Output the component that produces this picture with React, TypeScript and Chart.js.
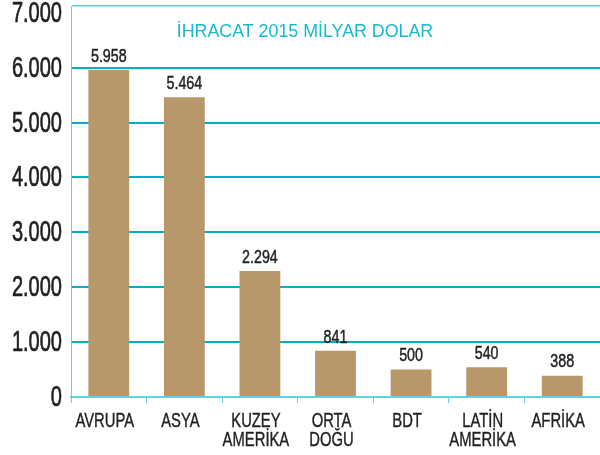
import React, { useEffect, useRef } from "react";
import { Chart, registerables } from "chart.js";

Chart.register(...registerables);

const categories: string[][] = [
  ["AVRUPA"],
  ["ASYA"],
  ["KUZEY", "AMERİKA"],
  ["ORTA", "DOĞU"],
  ["BDT"],
  ["LATİN", "AMERİKA"],
  ["AFRİKA"],
];
const exports2015: number[] = [5958, 5464, 2294, 841, 500, 540, 388];
const yTicks: number[] = [0, 1000, 2000, 3000, 4000, 5000, 6000, 7000];
const yMax = 7125;
const title = "İHRACAT 2015 MİLYAR DOLAR";

const FONT = '"Liberation Sans", Arial, sans-serif';
const BAR = "#b8986a";
const TEAL = "#00afc6";
const LIGHT = "#5fd2e2";
const INK = "#231f20";

const fmt = (n: number) => String(n).replace(/\B(?=(\d{3})+(?!\d))/g, ".");

function drawText(
  ctx: CanvasRenderingContext2D,
  text: string,
  x: number,
  y: number,
  sx: number,
  align: CanvasTextAlign,
  baseline: CanvasTextBaseline,
  stroke = 0
) {
  ctx.save();
  ctx.translate(x, y);
  ctx.scale(sx, 1);
  ctx.textAlign = align;
  ctx.textBaseline = baseline;
  ctx.fillText(text, 0, 0);
  if (stroke > 0) {
    ctx.lineWidth = stroke;
    ctx.strokeStyle = ctx.fillStyle as string;
    ctx.lineJoin = "round";
    ctx.strokeText(text, 0, 0);
  }
  ctx.restore();
}

const overlay = {
  id: "overlay",
  afterDraw(chart: any) {
    const { ctx, chartArea } = chart;
    const xs = chart.scales.x;
    const ys = chart.scales.y;
    const meta = chart.getDatasetMeta(0);
    ctx.save();
    ctx.fillStyle = INK;
    ctx.font = `29px ${FONT}`;
    yTicks.forEach((v) => {
      drawText(ctx, fmt(v), 62, ys.getPixelForValue(v) + 1, 0.69, "right", "middle", 0.7);
    });
    ctx.font = `20px ${FONT}`;
    categories.forEach((lines, i) => {
      const cx = xs.getPixelForTick(i) - 4;
      lines.forEach((line, j) => {
        drawText(ctx, line, cx, chartArea.bottom + 24 + j * 19, 0.74, "center", "middle", 0.4);
      });
    });
    ctx.font = `19px ${FONT}`;
    meta.data.forEach((el: any, i: number) => {
      drawText(ctx, fmt(exports2015[i]), el.x, el.y - 4, 0.75, "center", "bottom", 0.5);
    });
    ctx.fillStyle = "#16b9ce";
    ctx.font = `18px ${FONT}`;
    drawText(ctx, title, 305, chartArea.top + 26, 0.99, "center", "middle");
    ctx.restore();
  },
};

export default function App() {
  const ref = useRef<HTMLCanvasElement | null>(null);
  useEffect(() => {
    if (!ref.current) return;
    const chart = new Chart(ref.current, {
      type: "bar",
      data: {
        labels: categories,
        datasets: [
          {
            data: exports2015,
            backgroundColor: BAR,
            categoryPercentage: 1,
            barPercentage: 0.54,
          },
        ],
      },
      options: {
        animation: false,
        responsive: false,
        layout: { padding: { top: 6, right: 0, left: 0, bottom: 0 } },
        plugins: { legend: { display: false }, tooltip: { enabled: false }, title: { display: false } },
        scales: {
          x: {
            grid: {
              offset: true,
              drawOnChartArea: false,
              drawTicks: true,
              tickLength: 6,
              color: LIGHT,
              lineWidth: 1,
            },
            border: { color: LIGHT, width: 2 },
            ticks: { display: false },
            afterFit(scale: any) {
              scale.height = 58;
            },
          },
          y: {
            min: 0,
            max: yMax,
            afterBuildTicks(scale: any) {
              scale.ticks = [...yTicks, yMax].map((v) => ({ value: v }));
            },
            grid: {
              drawTicks: false,
              color: (c: any) => {
                const v = c.tick?.value;
                if (v === 7000) return "rgba(0,0,0,0)";
                if (v === yMax) return LIGHT;
                if (v === 0) return LIGHT;
                return TEAL;
              },
              lineWidth: (c: any) => {
                const v = c.tick?.value;
                if (v === yMax) return 1.5;
                return 2;
              },
            },
            border: { color: LIGHT, width: 1 },
            ticks: { display: false },
            afterFit(scale: any) {
              scale.width = 71;
            },
          },
        },
      },
      plugins: [overlay],
    });
    return () => chart.destroy();
  }, []);
  return (
    <div style={{ position: "fixed", left: 0, top: 0, width: 600, height: 455, background: "#fff" }}>
      <canvas ref={ref} width={600} height={455} />
    </div>
  );
}
